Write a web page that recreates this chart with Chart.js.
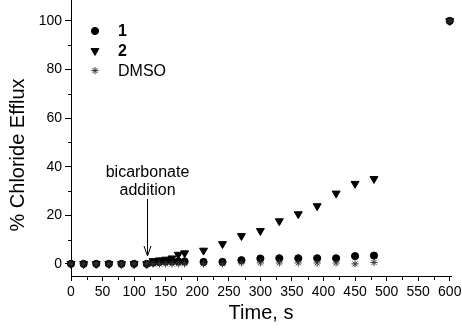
<!DOCTYPE html>
<html>
<head>
<meta charset="utf-8">
<script src="https://cdn.jsdelivr.net/npm/chart.js@4/dist/chart.umd.min.js"></script>
<style>
  html, body { margin: 0; padding: 0; background: #fff; }
  #wrap { width: 462px; height: 329px; }
</style>
</head>
<body>
<div id="wrap"><canvas id="myChart" width="462" height="329"></canvas></div>
<script>
// time points (s)
var times = [0, 20, 40, 60, 80, 100, 120, 130, 140, 150, 160, 170, 180, 210, 240, 270, 300, 330, 360, 390, 420, 450, 480, 600];
// % chloride efflux
var series1 = [0, 0, 0, 0, 0, 0, 0, 0.5, 0.8, 1, 1, 1, 1, 0.8, 0.8, 1.5, 2.2, 2.3, 2.3, 2.3, 2.3, 3.2, 3.4, 100];
var series2 = [0, 0, 0, 0, 0, 0, 0, 1.2, 1.5, 1.8, 2.3, 3.8, 4.4, 5.5, 8.2, 11.5, 13.6, 17.6, 20.5, 23.8, 29, 33, 35, 100];
var dmso = [0, 0, 0, 0, 0, 0, 0, 0, 0, 0, 0, 0, 0, 0, 0, 0.4, 0.4, 0.4, 0.4, 0.4, 0.4, 0, 0.6, 100];
var seriesNames = ['1', '2', 'DMSO'];
var xTicks = [0, 50, 100, 150, 200, 250, 300, 350, 400, 450, 500, 550, 600];
var yTicks = [0, 20, 40, 60, 80, 100];
var yTitle = '% Chloride Efflux';
var noteLines = ['bicarbonate', 'addition'];
var noteTime = 120;

function toPoints(vals) {
  var pts = [];
  for (var i = 0; i < times.length; i++) {
    pts.push({x: times[i], y: vals[i]});
  }
  return pts;
}

var FONT = '"Liberation Sans", Arial, sans-serif';

var styles = [
  {pointStyle: 'circle', radius: 3.6, rotation: 0, color: '#000', bold: true},
  {pointStyle: 'triangle', radius: 4.6, rotation: 180, color: '#000', bold: true},
  {pointStyle: 'star', radius: 3.6, rotation: 0, color: '#333', bold: false}
];

var extras = {
  id: 'extras',
  afterDraw: function(chart) {
    var ctx = chart.ctx;
    var xs = chart.scales.x, ys = chart.scales.y;
    ctx.save();
    ctx.strokeStyle = '#000';
    ctx.lineWidth = 1;
    // minor ticks
    ctx.beginPath();
    for (var v = 10; v <= 90; v += 20) {
      var py = Math.round(ys.getPixelForValue(v)) + 0.5;
      ctx.moveTo(xs.left - 3, py);
      ctx.lineTo(xs.left, py);
    }
    for (var t = 25; t <= 575; t += 50) {
      var px = Math.round(xs.getPixelForValue(t)) + 0.5;
      ctx.moveTo(px, ys.bottom);
      ctx.lineTo(px, ys.bottom + 4);
    }
    ctx.stroke();

    // y title, sits a bit below the middle of the axis
    ctx.save();
    ctx.translate(18, 155);
    ctx.rotate(-Math.PI / 2);
    ctx.fillStyle = '#000';
    ctx.font = '20px ' + FONT;
    ctx.textAlign = 'center';
    ctx.textBaseline = 'middle';
    ctx.fillText(yTitle, 0, 0);
    ctx.restore();

    // annotation
    var ax = Math.round(xs.getPixelForValue(noteTime)) + 0.5;
    ctx.fillStyle = '#000';
    ctx.font = '16px ' + FONT;
    ctx.textAlign = 'center';
    ctx.textBaseline = 'middle';
    ctx.fillText(noteLines[0], ax, 173);
    ctx.fillText(noteLines[1], ax, 191);
    ctx.beginPath();
    ctx.moveTo(ax, 199);
    ctx.lineTo(ax, 254);
    ctx.stroke();
    ctx.beginPath();
    ctx.moveTo(ax - 3.5, 246);
    ctx.lineTo(ax, 256);
    ctx.lineTo(ax + 3.5, 246);
    ctx.stroke();

    // legend
    for (var i = 0; i < seriesNames.length; i++) {
      var st = styles[i];
      var ly = 31 + i * 19.8;
      ctx.fillStyle = st.color;
      ctx.strokeStyle = st.color;
      Chart.helpers.drawPoint(ctx, {pointStyle: st.pointStyle, radius: st.radius, rotation: st.rotation, borderWidth: 1}, 95, ly);
      ctx.fillStyle = '#000';
      ctx.textAlign = 'left';
      ctx.font = (st.bold ? 'bold ' : '') + '16px ' + FONT;
      ctx.fillText(seriesNames[i], 118, ly + 1);
    }
    ctx.restore();
  }
};

function setTicks(list) {
  return function(scale) {
    scale.ticks = list.map(function(v) { return {value: v}; });
  };
}

var datasets = [];
var dataLists = [series1, series2, dmso];
for (var k = 0; k < 3; k++) {
  datasets.push({
    label: seriesNames[k],
    data: toPoints(dataLists[k]),
    showLine: false,
    pointStyle: styles[k].pointStyle,
    pointRadius: styles[k].radius,
    pointRotation: styles[k].rotation,
    pointBackgroundColor: styles[k].color,
    pointBorderColor: styles[k].color,
    pointBorderWidth: 1,
    clip: false,
    order: 3 - k
  });
}

var ctx = document.getElementById('myChart').getContext('2d');
var chart = new Chart(ctx, {
  type: 'scatter',
  data: {datasets: datasets},
  options: {
    responsive: false,
    animation: false,
    events: [],
    layout: {autoPadding: false, padding: {left: 0, right: 11, top: 0, bottom: 0}},
    plugins: {legend: {display: false}, tooltip: {enabled: false}},
    scales: {
      x: {
        type: 'linear',
        min: 0,
        max: 602,
        afterFit: function(s) { s.height = 53; s.paddingLeft = 0; s.paddingRight = 0; },
        afterBuildTicks: setTicks(xTicks),
        border: {color: '#000', width: 1},
        grid: {drawOnChartArea: false, drawTicks: true, tickLength: 5, color: '#000'},
        ticks: {autoSkip: false, maxRotation: 0, color: '#000', padding: 3, font: {family: FONT, size: 14}},
        title: {display: true, text: 'Time, s', color: '#000', font: {family: FONT, size: 20}, padding: {top: 0, bottom: 4}}
      },
      y: {
        type: 'linear',
        min: -5,
        max: 108.6,
        afterFit: function(s) { s.width = 71; s.paddingTop = 0; s.paddingBottom = 0; },
        afterBuildTicks: setTicks(yTicks),
        border: {color: '#000', width: 1},
        grid: {drawOnChartArea: false, drawTicks: true, tickLength: 6, color: '#000'},
        ticks: {color: '#000', padding: 3, font: {family: FONT, size: 14}}
      }
    }
  },
  plugins: [extras]
});
</script>
</body>
</html>
